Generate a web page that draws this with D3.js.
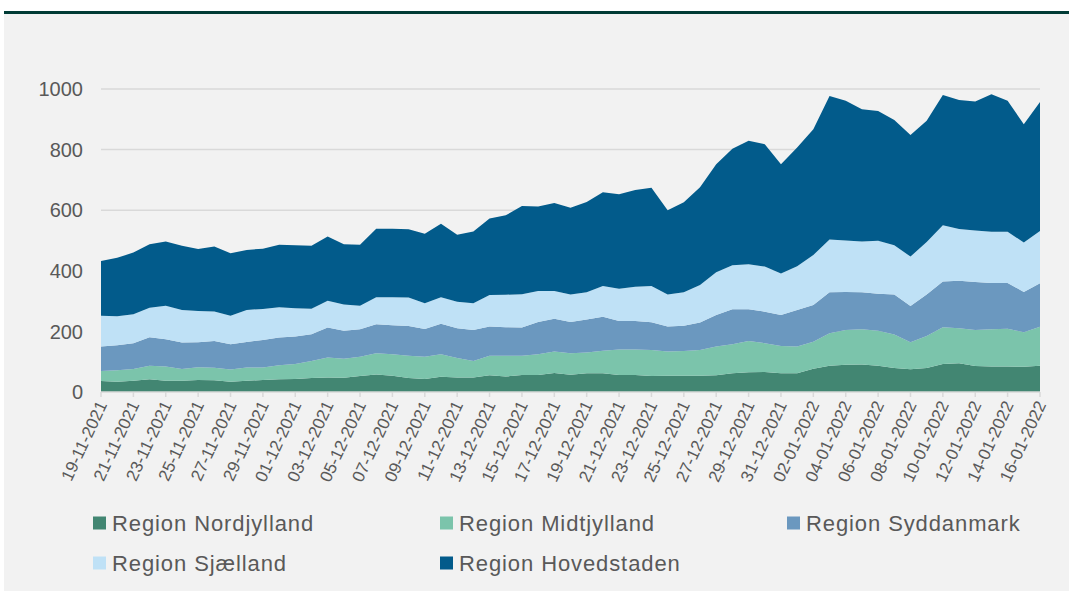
<!DOCTYPE html>
<html>
<head>
<meta charset="utf-8">
<script src="https://cdn.jsdelivr.net/npm/d3@7"></script>
<style>
  html, body { margin: 0; padding: 0; background: #ffffff; }
  svg { display: block; }
  text { font-family: "Liberation Sans", Arial, sans-serif; }
</style>
</head>
<body>
<svg id="chart" width="1069" height="591"></svg>
<script>
const dates = [
  "19-11-2021","20-11-2021","21-11-2021","22-11-2021","23-11-2021","24-11-2021","25-11-2021","26-11-2021","27-11-2021","28-11-2021","29-11-2021","30-11-2021",
  "01-12-2021","02-12-2021","03-12-2021","04-12-2021","05-12-2021","06-12-2021","07-12-2021","08-12-2021","09-12-2021","10-12-2021",
  "11-12-2021","12-12-2021","13-12-2021","14-12-2021","15-12-2021","16-12-2021","17-12-2021","18-12-2021","19-12-2021","20-12-2021",
  "21-12-2021","22-12-2021","23-12-2021","24-12-2021","25-12-2021","26-12-2021","27-12-2021","28-12-2021","29-12-2021","30-12-2021","31-12-2021",
  "01-01-2022","02-01-2022","03-01-2022","04-01-2022","05-01-2022","06-01-2022","07-01-2022","08-01-2022","09-01-2022","10-01-2022",
  "11-01-2022","12-01-2022","13-01-2022","14-01-2022","15-01-2022","16-01-2022"
];

const nordjylland = [36,34,37,42,37,37,40,39,34,37,40,42,43,46,48,47,53,58,54,46,43,50,48,48,55,51,56,56,63,57,62,62,56,56,53,54,54,54,55,62,65,66,62,62,77,87,90,91,87,79,75,79,92,95,86,84,84,83,87];
const midtjylland = [33,38,39,45,47,39,42,41,40,44,41,46,49,56,66,63,63,70,71,74,73,75,64,54,65,69,64,69,71,71,68,74,84,84,86,80,81,85,95,96,103,95,90,88,89,107,115,116,115,111,89,106,122,115,119,123,125,114,128];
const syddanmark = [81,82,85,94,90,87,82,88,84,84,91,92,91,89,99,92,91,96,95,98,92,100,98,103,96,94,93,106,108,103,109,112,94,94,91,82,84,90,104,115,105,104,102,121,121,135,125,122,122,132,120,137,151,157,158,153,151,133,144];
const sjaelland = [102,96,96,97,111,108,103,98,94,106,102,100,93,84,88,87,78,89,93,94,85,88,88,88,104,107,110,102,91,91,90,102,107,113,120,106,110,124,141,145,149,149,137,144,165,174,170,168,175,162,163,173,185,171,170,169,169,163,172];
const hovedstaden = [180,193,203,210,212,212,205,214,206,198,199,206,208,208,212,199,201,226,226,225,229,242,221,237,253,262,291,279,291,286,298,309,312,320,324,278,297,323,357,385,407,404,361,392,415,474,461,436,428,414,401,400,430,426,426,454,432,391,426];

const seriesNames = ["Region Nordjylland","Region Midtjylland","Region Syddanmark","Region Sjælland","Region Hovedstaden"];
const seriesValues = [nordjylland, midtjylland, syddanmark, sjaelland, hovedstaden];
const seriesColors = ["#428672","#7bc4ab","#6b98bf","#bfe1f6","#025b8b"];
const yTicks = [0,200,400,600,800,1000];

const svg = d3.select("#chart");
const W = 1069, H = 591;

// background panel
svg.append("rect").attr("x",0).attr("y",0).attr("width",W).attr("height",H).attr("fill","#ffffff");
svg.append("rect").attr("x",4).attr("y",14).attr("width",W-4).attr("height",H-14).attr("fill","#f2f2f2");
svg.append("rect").attr("x",4).attr("y",11).attr("width",W-4).attr("height",3).attr("fill","#003b35");

const x = d3.scalePoint().domain(dates).range([101, 1040]);
const y = d3.scaleLinear().domain([0, 1000]).range([392, 89]);

// gridlines
svg.append("g").selectAll("line").data(yTicks.filter(d => d > 0)).join("line")
  .attr("x1", 101).attr("x2", 1040)
  .attr("y1", d => y(d)).attr("y2", d => y(d))
  .attr("stroke", "#d9d9d9").attr("stroke-width", 1.5);

// stacked data
const table = dates.map((d, i) => {
  const row = { date: d };
  seriesNames.forEach((n, k) => row[n] = seriesValues[k][i]);
  return row;
});
const stacked = d3.stack().keys(seriesNames)(table);
const area = d3.area()
  .x(d => x(d.data.date))
  .y0(d => y(d[0]))
  .y1(d => y(d[1]));

svg.append("g").selectAll("path").data(stacked).join("path")
  .attr("d", area)
  .attr("fill", (d, i) => seriesColors[i]);

// y axis labels
svg.append("g").selectAll("text").data(yTicks).join("text")
  .attr("x", 83).attr("y", d => y(d))
  .attr("dy", "0.36em")
  .attr("text-anchor", "end")
  .attr("font-size", 20)
  .attr("fill", "#595959")
  .text(d => d);

// x axis line and ticks
svg.append("line").attr("x1", 101).attr("x2", 1040)
  .attr("y1", y(0)).attr("y2", y(0))
  .attr("stroke", "#d9d9d9").attr("stroke-width", 1.5);

const labelDates = dates.filter((d, i) => i % 2 === 0);
svg.append("g").selectAll("line").data(labelDates).join("line")
  .attr("x1", d => x(d)).attr("x2", d => x(d))
  .attr("y1", y(0)).attr("y2", y(0) + 5)
  .attr("stroke", "#d9d9d9").attr("stroke-width", 1.5);

svg.append("g").selectAll("text").data(labelDates).join("text")
  .attr("transform", d => `translate(${x(d) + 1},${y(0) + 10}) rotate(-65)`)
  .attr("text-anchor", "end")
  .attr("dy", "0.35em")
  .attr("font-size", 17)
  .attr("fill", "#595959")
  .text(d => d);

// legend
const legendPos = [
  {x: 93, y: 523}, {x: 440, y: 523}, {x: 787, y: 523},
  {x: 93, y: 563}, {x: 440, y: 563}
];
const lg = svg.append("g").selectAll("g").data(seriesNames).join("g")
  .attr("transform", (d, i) => `translate(${legendPos[i].x},${legendPos[i].y})`);
lg.append("rect").attr("x", 0).attr("y", -6.5).attr("width", 13).attr("height", 13)
  .attr("fill", (d, i) => seriesColors[i]);
lg.append("text").attr("x", 19).attr("y", 0).attr("dy", "0.36em")
  .attr("font-size", 22).attr("letter-spacing", "0.9px").attr("fill", "#595959")
  .text(d => d);
</script>
</body>
</html>
